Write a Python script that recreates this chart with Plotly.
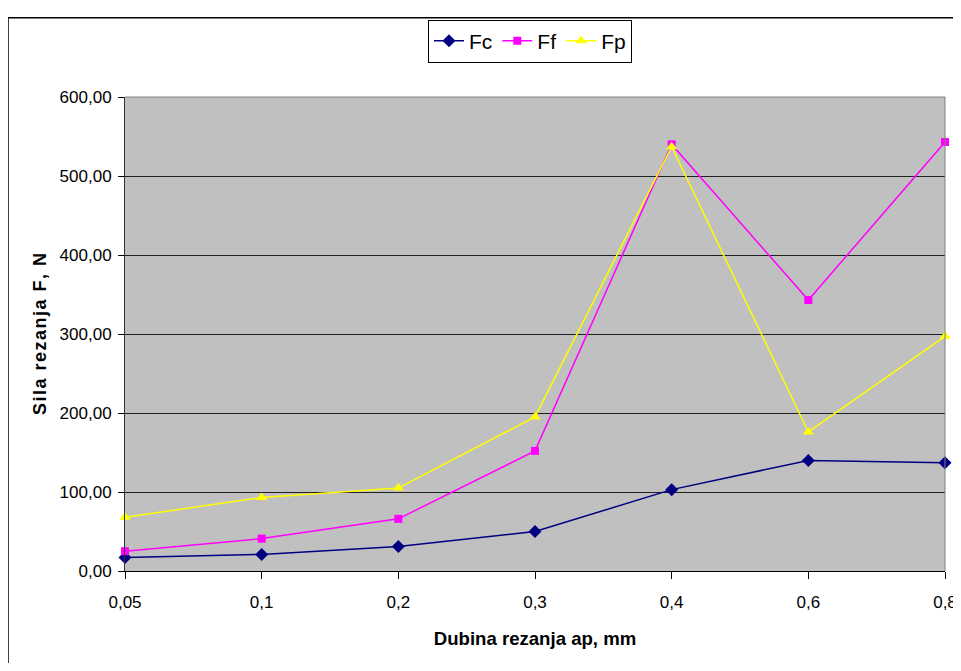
import plotly.graph_objects as go

categories = ["0,05", "0,1", "0,2", "0,3", "0,4", "0,6", "0,8"]
fc = [17, 21, 31, 50, 103, 140, 137]
ff = [25, 41, 66, 152, 540, 343, 543]
fp = [68, 93, 105, 195, 537, 176, 297]
y_ticks = [0, 100, 200, 300, 400, 500, 600]

OFF = 8  # browser body margin
W, H = 961, 671 - 2 * OFF
WE = W - OFF  # effective rendered width
L, R, T, B = 125 - OFF, 945 - OFF, 93 - OFF, 571 - OFF

fig = go.Figure()
common = dict(mode="lines+markers", cliponaxis=False)
fig.add_trace(go.Scatter(x=categories, y=fc, name="Fc",
                         line=dict(color="#000080", width=1.5),
                         marker=dict(symbol="diamond", size=10, color="#000080"), **common))
fig.add_trace(go.Scatter(x=categories, y=ff, name="Ff",
                         line=dict(color="#FF00FF", width=1.5),
                         marker=dict(symbol="square", size=8, color="#FF00FF"), **common))
fig.add_trace(go.Scatter(x=categories, y=fp, name="Fp",
                         line=dict(color="#FFFF00", width=1.5),
                         marker=dict(symbol="triangle-up", size=10, color="#FFFF00"), **common))

font = "Liberation Sans, Arial, sans-serif"

def px_x(p):
    return (p - OFF - L) / (R - L)

def px_y(p):
    return (B - (p - OFF)) / (B - T)

hs = "\u200a"
ytitle = hs.join(list("Sila rezanja F, N"))

fig.update_layout(
    width=W, height=H,
    margin=dict(l=L, r=WE - R, t=T, b=H - B),
    paper_bgcolor="white",
    plot_bgcolor="#C0C0C0",
    separators=", ",
    font=dict(family=font, size=17, color="black"),
    showlegend=True,
    legend=dict(orientation="h", x=px_x(428), y=px_y(15), xanchor="left", yanchor="top",
                bordercolor="black", borderwidth=1, bgcolor="white",
                font=dict(size=21, family=font), itemwidth=30,
                traceorder="normal"),
    xaxis=dict(type="category", range=[0, len(categories) - 1],
               showgrid=False, ticks="outside", ticklen=7, tickcolor="black",
               showline=True, linecolor="black", linewidth=1,
               ticklabelstandoff=9,
               tickfont=dict(size=17, family=font),
               title=dict(text="<b>Dubina rezanja ap, mm</b>", font=dict(size=18.6, family=font), standoff=20)),
    yaxis=dict(range=[0, 600], tickvals=y_ticks, tickformat=".2f",
               showgrid=True, gridcolor="#202020", gridwidth=1,
               ticks="outside", ticklen=6, tickcolor="black",
               showline=True, linecolor="#303030", linewidth=1,
               zeroline=False, ticklabelstandoff=3,
               tickfont=dict(size=17, family=font),
               title=dict(text="<b>" + ytitle + "</b>", font=dict(size=18, family=font), standoff=8)),
    shapes=[
        dict(type="line", xref="paper", yref="paper", x0=0, x1=1, y0=1, y1=1,
             line=dict(color="#808080", width=1)),
        dict(type="line", xref="paper", yref="paper", x0=1, x1=1, y0=0, y1=1,
             line=dict(color="#808080", width=1)),
        dict(type="line", xref="paper", yref="paper", x0=px_x(8), x1=px_x(975), y0=px_y(13), y1=px_y(13),
             line=dict(color="black", width=1.5)),
        dict(type="line", xref="paper", yref="paper", x0=px_x(8), x1=px_x(8), y0=px_y(13), y1=px_y(690),
             line=dict(color="black", width=1.5)),
    ],
)

fig.write_html("out.html")
